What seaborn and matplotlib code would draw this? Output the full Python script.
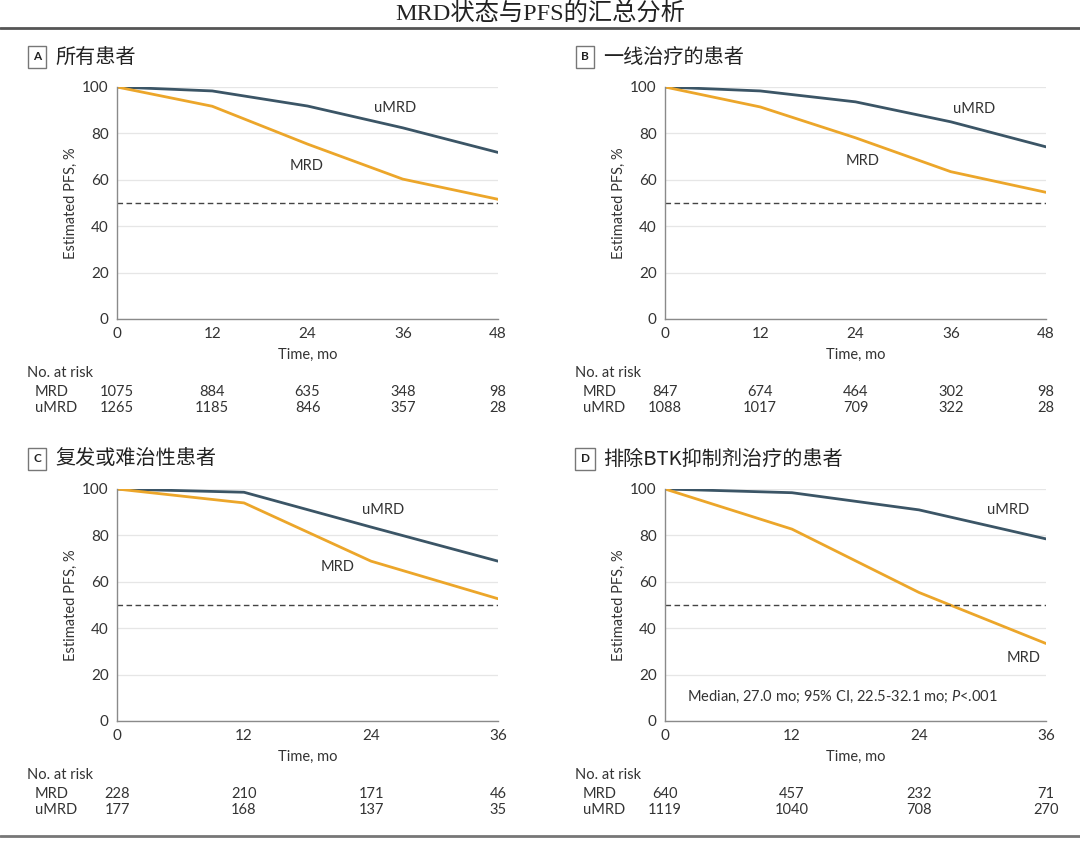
import numpy as np
import pandas as pd
import matplotlib
matplotlib.use('Agg')
import matplotlib.pyplot as plt
import seaborn as sns
from matplotlib.lines import Line2D

sns.set_theme(style='white')
plt.rcParams['font.family'] = ['Lato', 'Noto Sans CJK SC', 'DejaVu Sans']
plt.rcParams['axes.unicode_minus'] = False
plt.rcParams['mathtext.fontset'] = 'custom'
plt.rcParams['mathtext.rm'] = 'Lato'
plt.rcParams['mathtext.it'] = 'Lato:italic'

# ---- data ----
title = 'MRD状态与PFS的汇总分析'
panel_letters = ['A', 'B', 'C', 'D']
panel_titles = ['所有患者', '一线治疗的患者', '复发或难治性患者', '排除BTK抑制剂治疗的患者']

time_a = [0, 12, 24, 36, 48]
umrd_a = [100, 98.3, 91.8, 82.4, 71.8]
mrd_a = [100, 91.7, 75.4, 60.3, 51.6]
risk_mrd_a = [1075, 884, 635, 348, 98]
risk_umrd_a = [1265, 1185, 846, 357, 28]

time_b = [0, 12, 24, 36, 48]
umrd_b = [100, 98.3, 93.6, 85.0, 74.2]
mrd_b = [100, 91.4, 78.1, 63.5, 54.6]
risk_mrd_b = [847, 674, 464, 302, 98]
risk_umrd_b = [1088, 1017, 709, 322, 28]

time_c = [0, 12, 24, 36]
umrd_c = [100, 98.6, 83.6, 68.9]
mrd_c = [100, 94.0, 68.9, 52.7]
risk_mrd_c = [228, 210, 171, 46]
risk_umrd_c = [177, 168, 137, 35]

time_d = [0, 12, 24, 36]
umrd_d = [100, 98.4, 91.0, 78.5]
mrd_d = [100, 82.7, 55.4, 33.4]
risk_mrd_d = [640, 457, 232, 71]
risk_umrd_d = [1119, 1040, 708, 270]

# curve label positions (months, %)
umrd_label_pos = [(35.0, 91.0), (39.0, 90.7), (25.1, 91.1), (32.4, 91.0)]
mrd_label_pos = [(23.9, 65.9), (24.9, 68.1), (20.8, 66.4), (33.9, 27.2)]
note_d = 'Median, 27.0 mo; 95% CI, 22.5-32.1 mo; $\\it{P}$<.001'

panels = [
    (time_a, umrd_a, mrd_a, risk_mrd_a, risk_umrd_a),
    (time_b, umrd_b, mrd_b, risk_mrd_b, risk_umrd_b),
    (time_c, umrd_c, mrd_c, risk_mrd_c, risk_umrd_c),
    (time_d, umrd_d, mrd_d, risk_mrd_d, risk_umrd_d),
]

W, H = 1080, 841
fig = plt.figure(figsize=(W / 100, H / 100), dpi=100)
fig.patch.set_facecolor('white')


def fx(x):
    return x / W


def fy(y):
    return 1 - y / H


palette = {'uMRD': '#3b5566', 'MRD': '#eca62a'}
text_col = '#333333'
spine_col = '#8a8a8a'
fs = 10.5

# axes boxes in pixels: left, top, right, bottom
boxes = [(117, 87, 498, 319), (665, 87, 1046, 319),
         (117, 489, 498, 721), (665, 489, 1046, 721)]

for i, (t, um, m, rm, ru) in enumerate(panels):
    l, tp, r, b = boxes[i]
    ax = fig.add_axes([fx(l), fy(b), fx(r - l), (b - tp) / H])
    df = pd.DataFrame({
        'Time': t + t,
        'PFS': um + m,
        'Group': ['uMRD'] * len(t) + ['MRD'] * len(t),
    })
    sns.lineplot(data=df, x='Time', y='PFS', hue='Group', palette=palette,
                 linewidth=2, ax=ax, legend=False)
    ax.plot([0, t[-1]], [50, 50], ls=(0, (4, 2.5)), color='#444444', lw=1)
    ax.set_xlim(0, t[-1])
    ax.set_ylim(0, 100)
    ax.set_xticks(t)
    ax.set_yticks([0, 20, 40, 60, 80, 100])
    ax.yaxis.grid(True, color='#e6e6e6', lw=0.9)
    ax.set_axisbelow(True)
    for s in ['top', 'right']:
        ax.spines[s].set_visible(False)
    for s in ['left', 'bottom']:
        ax.spines[s].set_color(spine_col)
        ax.spines[s].set_linewidth(1)
    ax.tick_params(axis='both', which='both', direction='out', length=4,
                   width=1, color=spine_col, labelsize=fs + 0.5, labelcolor=text_col, pad=2)
    ax.set_xlabel('Time, mo', fontsize=fs, color=text_col, labelpad=5)
    ax.set_ylabel('Estimated PFS, %', fontsize=fs, color=text_col, labelpad=3)
    for sp in ax.spines.values():
        sp.set_clip_on(False)

    ux, uy = umrd_label_pos[i]
    mx, my = mrd_label_pos[i]
    ax.text(ux, uy, 'uMRD', ha='center', va='center', fontsize=fs, color=text_col)
    ax.text(mx, my, 'MRD', ha='center', va='center', fontsize=fs, color=text_col)
    if i == 3:
        ax.text(2.1, 10.3, note_d, ha='left', va='center', fontsize=fs, color=text_col)

    # no. at risk table
    trans = ax.get_xaxis_transform()
    hpx = b - tp
    for xv, n1, n2 in zip(t, rm, ru):
        ax.text(xv, -73 / hpx, str(n1), transform=trans, ha='center',
                va='center', fontsize=fs, color=text_col, clip_on=False)
        ax.text(xv, -89 / hpx, str(n2), transform=trans, ha='center',
                va='center', fontsize=fs, color=text_col, clip_on=False)

    x0 = 27 if i % 2 == 0 else 575
    fig.text(fx(x0), fy(b + 54), 'No. at risk', ha='left', va='center',
             fontsize=fs, color=text_col)
    fig.text(fx(x0 + 8), fy(b + 73), 'MRD', ha='left', va='center',
             fontsize=fs, color=text_col)
    fig.text(fx(x0 + 8), fy(b + 89), 'uMRD', ha='left', va='center',
             fontsize=fs, color=text_col)

    # panel heading
    ty = tp - 30
    fig.text(fx(x0 + 10), fy(ty), panel_letters[i], ha='center', va='center',
             fontsize=8.5, fontweight='bold', color='#222222',
             bbox=dict(boxstyle='square,pad=0.45', fc='white', ec='#777777', lw=1))
    fig.text(fx(x0 + 28), fy(ty), panel_titles[i], ha='left', va='center',
             fontsize=14.5, color='#222222',
             family=['Noto Sans CJK SC', 'DejaVu Sans'])

# figure title and rules
fig.text(0.5, fy(14), title, ha='center', va='center', fontsize=17.5,
         color='#222222', family=['Liberation Serif', 'Noto Sans CJK SC'])
fig.add_artist(Line2D([0, 1], [fy(28), fy(28)], color='#555555', lw=2))
fig.add_artist(Line2D([0, 1], [fy(836), fy(836)], color='#777777', lw=2))

fig.savefig('out.png', dpi=100)
